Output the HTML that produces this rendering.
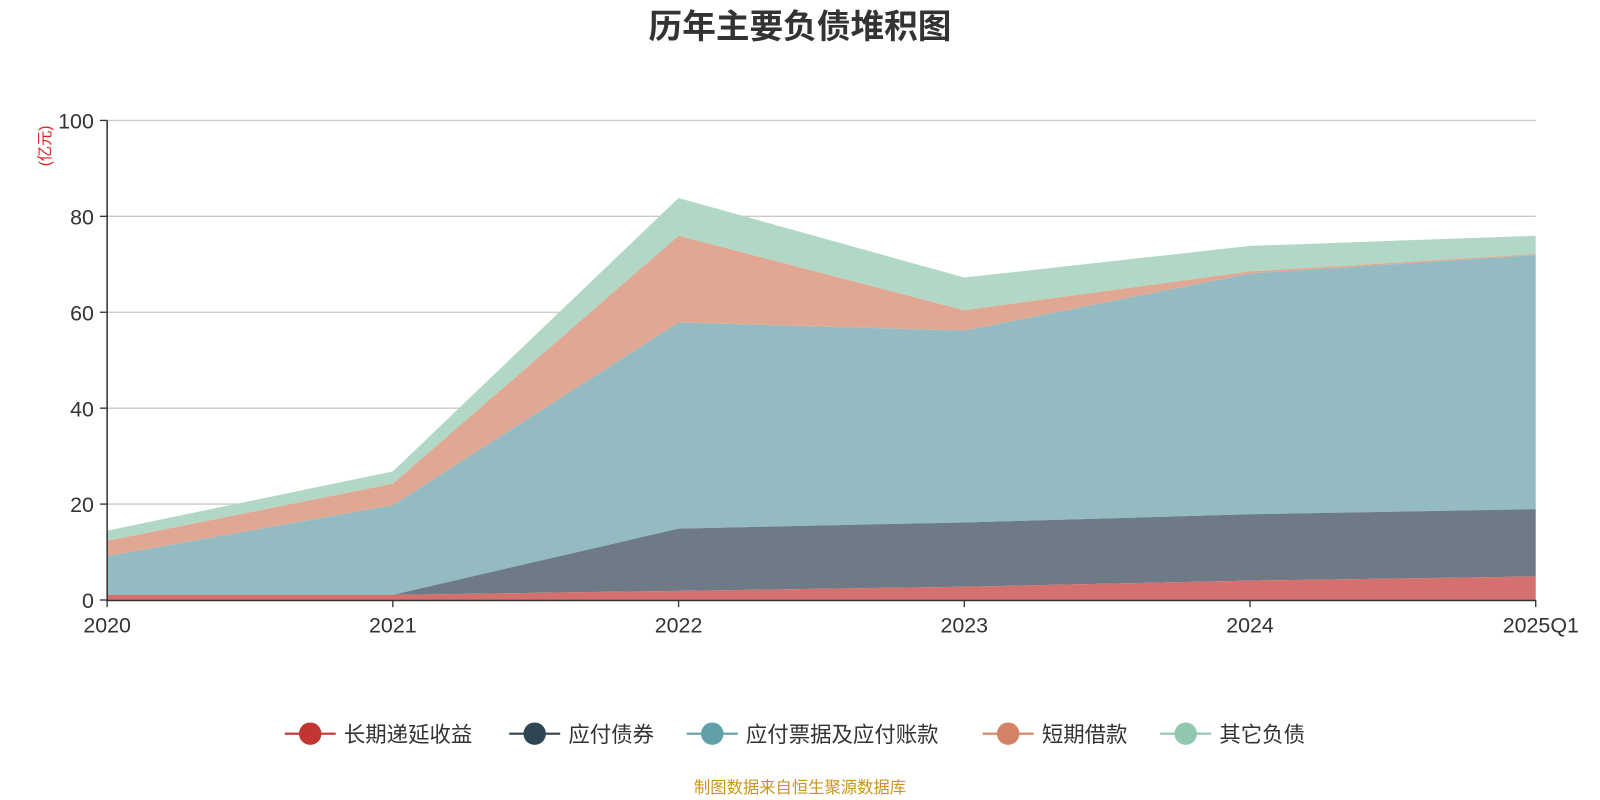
<!DOCTYPE html>
<html><head><meta charset="utf-8"><style>
body{margin:0;background:#fff;}
svg text{font-family:"Liberation Sans","Noto Sans CJK SC",sans-serif;}
</style></head><body>
<svg width="1600" height="800" viewBox="0 0 1568 784" xmlns="http://www.w3.org/2000/svg" style="display:block">
<rect width="1568" height="784" fill="#fff"/>
<text x="784" y="37" text-anchor="middle" font-size="33" font-weight="bold" fill="#333">历年主要负债堆积图</text>
<g stroke="#c8c8c8" stroke-width="1.3">
<line x1="105" y1="118" x2="1505" y2="118"/>
<line x1="105" y1="212" x2="1505" y2="212"/>
<line x1="105" y1="306" x2="1505" y2="306"/>
<line x1="105" y1="400" x2="1505" y2="400"/>
<line x1="105" y1="494" x2="1505" y2="494"/>
</g>
<polygon fill="#b1d8c7" points="105,520 385,462 665,194 945,272 1225,241 1505,231 1505,249 1225,266 945,304 665,231 385,474 105,530"/>
<polygon fill="#e0a893" points="105,530 385,474 665,231 945,304 1225,266 1505,249 1505,250 1225,268 945,324 665,316 385,495 105,545"/>
<polygon fill="#93bbc1" points="105,545 385,495 665,316 945,324 1225,268 1505,250 1505,499 1225,504 945,512 665,518 385,583 105,583"/>
<polygon fill="#6e7b87" points="105,583 385,583 665,518 945,512 1225,504 1505,499 1505,565 1225,569 945,575 665,579 385,583"/>
<polygon fill="#d4706e" points="105,583 385,583 665,579 945,575 1225,569 1505,565 1505,588 105,588"/>
<line x1="105" y1="118" x2="105" y2="589" stroke="#333" stroke-width="1.5"/>
<line x1="104" y1="588.5" x2="1505" y2="588.5" stroke="#333" stroke-width="1.5"/>
<g stroke="#333" stroke-width="1.3">
<line x1="98" y1="118" x2="105" y2="118"/><line x1="98" y1="212" x2="105" y2="212"/><line x1="98" y1="306" x2="105" y2="306"/><line x1="98" y1="400" x2="105" y2="400"/><line x1="98" y1="494" x2="105" y2="494"/><line x1="98" y1="588" x2="105" y2="588"/>
<line x1="105" y1="588" x2="105" y2="595"/><line x1="385" y1="588" x2="385" y2="595"/><line x1="665" y1="588" x2="665" y2="595"/><line x1="945" y1="588" x2="945" y2="595"/><line x1="1225" y1="588" x2="1225" y2="595"/><line x1="1505" y1="588" x2="1505" y2="595"/>
</g>
<g font-size="21" fill="#333" text-anchor="end">
<text x="92" y="126">100</text><text x="92" y="220">80</text><text x="92" y="314">60</text><text x="92" y="408">40</text><text x="92" y="502">20</text><text x="92" y="596">0</text>
</g>
<g font-size="21" fill="#333" text-anchor="middle">
<text x="105" y="620">2020</text><text x="385" y="620">2021</text><text x="665" y="620">2022</text><text x="945" y="620">2023</text><text x="1225" y="620">2024</text><text x="1510" y="620">2025Q1</text>
</g>
<text transform="translate(49,143) rotate(-90)" font-size="15" fill="#e02020" text-anchor="middle">(亿元)</text>
<g font-size="21" fill="#333">
<line x1="279" y1="719" x2="329" y2="719" stroke="#c23531" stroke-width="2"/><circle cx="304" cy="719" r="11" fill="#c23531"/><text x="337" y="727">长期递延收益</text>
<line x1="499" y1="719" x2="549" y2="719" stroke="#2f4554" stroke-width="2"/><circle cx="524" cy="719" r="11" fill="#2f4554"/><text x="557" y="727">应付债券</text>
<line x1="673" y1="719" x2="723" y2="719" stroke="#61a0a8" stroke-width="2"/><circle cx="698" cy="719" r="11" fill="#61a0a8"/><text x="731" y="727">应付票据及应付账款</text>
<line x1="963" y1="719" x2="1013" y2="719" stroke="#d48265" stroke-width="2"/><circle cx="988" cy="719" r="11" fill="#d48265"/><text x="1021" y="727">短期借款</text>
<line x1="1137" y1="719" x2="1187" y2="719" stroke="#91c7ae" stroke-width="2"/><circle cx="1162" cy="719" r="11" fill="#91c7ae"/><text x="1195" y="727">其它负债</text>
</g>
<text x="784" y="777" font-size="16" fill="#c9961a" text-anchor="middle">制图数据来自恒生聚源数据库</text>
</svg>
</body></html>
